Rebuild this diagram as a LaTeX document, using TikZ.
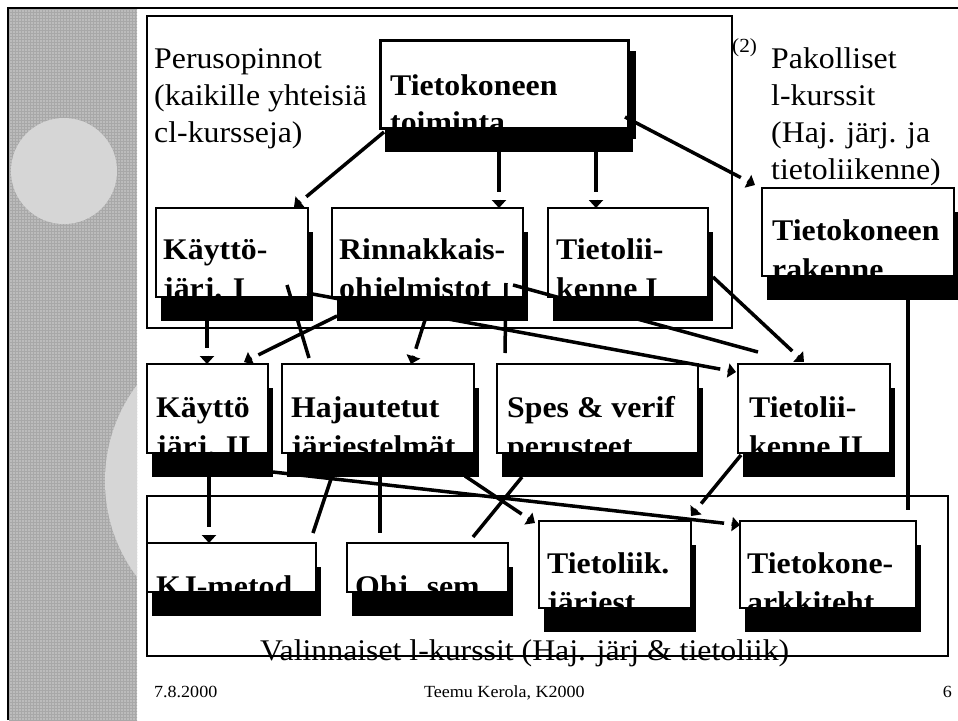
\documentclass[tikz,border=0pt]{standalone}
\usepackage{fontspec}
\setmainfont{Liberation Serif}[FakeStretch=1.06]
\usetikzlibrary{calc,arrows.meta,shadows,patterns}

\definecolor{stripgray}{RGB}{188,188,188}
\definecolor{stripline}{RGB}{168,168,168}
\definecolor{blobgray}{RGB}{214,214,214}

\newcommand\coursefont{\fontsize{30}{39}\selectfont\bfseries}
\newcommand\labelfont{\fontsize{30}{37}\selectfont}
\newcommand\footfont{\fontsize{17}{20}\selectfont}
\newcommand\twol[2]{\begin{tabular}[t]{@{}l@{}}#1\\#2\end{tabular}}

% connector with a small gap before its triangular head
\newcommand\flow[2]{%
  \draw[link, shorten >=16pt] #1 coordinate (fa) -- #2 coordinate (fb);
  \draw[link, -{Triangle[length=8pt,width=14pt]}] ($(fb)!8.5pt!(fa)$) -- (fb);}

\tikzset{
  course/.style={draw, line width=1.2pt, fill=white, inner sep=0pt, outer sep=0pt,
    anchor=north west,
    general shadow={fill=black, shadow xshift=5pt, shadow yshift=-24pt}},
  maincourse/.style={course, line width=3pt,
    general shadow={fill=black, shadow xshift=8pt, shadow yshift=-11pt}},
  group/.style={draw, line width=1.3pt, inner sep=0pt, outer sep=0pt, anchor=north west},
  ctext/.style={anchor=base west, inner sep=0pt, font=\coursefont},
  ltext/.style={anchor=base west, inner sep=0pt, font=\labelfont},
  ftext/.style={anchor=base west, inner sep=0pt, font=\footfont},
  link/.style={line width=3.5pt, line cap=butt},
}

\begin{document}
\begin{tikzpicture}[x=1pt,y=-1pt]
\useasboundingbox (0,0) rectangle (958,720);
\fill[white] (0,0) rectangle (958,720);

% decorative side strip
\fill[stripgray] (9,9) rectangle (137,720);
\fill[pattern=grid, pattern color=stripline] (9,9) rectangle (137,720);
\fill[blobgray] (64,171) circle[radius=53];
\begin{scope}
  \clip (9,9) rectangle (137,720);
  \fill[blobgray] (265,481) circle[radius=160];
\end{scope}
\draw[line width=1.5pt] (8,720) -- (8,8) -- (958,8);

% course groups
\node[group, minimum width=585pt, minimum height=312pt] (g1) at (147,16) {};
\node[group, minimum width=801pt, minimum height=160pt] (g2) at (147,496) {};

\node[ltext] (p1) at (154,68)  {Perusopinnot};
\node[ltext] (p2) at (154,105) {(kaikille yhteisiä};
\node[ltext] (p3) at (154,142) {cl-kursseja)};

\node[anchor=base west, inner sep=0pt, font=\fontsize{20}{22}\selectfont] (k0) at (732,52) {(2)};
\node[ltext] (k1) at (771,68)  {Pakolliset};
\node[ltext] (k2) at (771,105) {l-kurssit};
\node[ltext] (k3) at (771,142) {(Haj. järj. ja};
\node[ltext] (k4) at (771,179) {tietoliikenne)};

\node[ltext] (v1) at (260,660) {Valinnaiset l-kurssit (Haj. järj \& tietoliik)};

% courses
\node[maincourse, minimum width=248pt, minimum height=88pt] (n0) at (380,40) {};
\node[course, minimum width=152pt, minimum height=89pt] (n1) at (156,208) {};
\node[course, minimum width=191pt, minimum height=89pt] (n2) at (332,208) {};
\node[course, minimum width=160pt, minimum height=89pt] (n3) at (548,208) {};
\node[course, minimum width=192pt, minimum height=88pt] (n4) at (762,188) {};
\node[course, minimum width=121pt, minimum height=89pt] (n5) at (147,364) {};
\node[course, minimum width=192pt, minimum height=89pt] (n6) at (282,364) {};
\node[course, minimum width=201pt, minimum height=89pt] (n7) at (497,364) {};
\node[course, minimum width=152pt, minimum height=89pt] (n8) at (738,364) {};
\node[course, minimum width=169pt, minimum height=49pt] (n9) at (147,543) {};
\node[course, minimum width=161pt, minimum height=49pt] (n10) at (347,543) {};
\node[course, minimum width=152pt, minimum height=87pt] (n11) at (539,521) {};
\node[course, minimum width=176pt, minimum height=87pt] (n12) at (740,521) {};

\node[ctext, font=\fontsize{30}{37}\selectfont\bfseries] (t0) at ($(n0.north west)+(10,55)$) {\twol{Tietokoneen}{toiminta}};
\node[ctext] (t1)  at ($(n1.north west)+(7,51)$)  {\twol{Käyttö-}{järj. I}};
\node[ctext] (t2)  at ($(n2.north west)+(7,51)$)  {\twol{Rinnakkais-}{ohjelmistot}};
\node[ctext] (t3)  at ($(n3.north west)+(8,51)$)  {\twol{Tietolii-}{kenne I}};
\node[ctext] (t4)  at ($(n4.north west)+(10,52)$) {\twol{Tietokoneen}{rakenne}};
\node[ctext] (t5)  at ($(n5.north west)+(9,53)$)  {\twol{Käyttö}{järj. II}};
\node[ctext] (t6)  at ($(n6.north west)+(9,53)$)  {\twol{Hajautetut}{järjestelmät}};
\node[ctext] (t7)  at ($(n7.north west)+(10,53)$) {\twol{Spes \& verif}{perusteet}};
\node[ctext] (t8)  at ($(n8.north west)+(11,53)$) {\twol{Tietolii-}{kenne II}};
\node[ctext] (t9)  at ($(n9.north west)+(9,53)$)  {KJ-metod.};
\node[ctext] (t10) at ($(n10.north west)+(8,53)$) {Ohj. sem.};
\node[ctext] (t11) at ($(n11.north west)+(8,52)$) {\twol{Tietoliik.}{järjest.}};
\node[ctext] (t12) at ($(n12.north west)+(7,52)$) {\twol{Tietokone-}{arkkiteht.}};

% prerequisites
\flow{($(n0.south west)+(4,4)$)}{($(n1.north east)+(-14,-1)$)}
\flow{($(n2.north west)+(167,-69)$)}{($(n2.north west)+(167,0)$)}
\flow{($(n3.north west)+(48,-69)$)}{($(n3.north west)+(48,0)$)}
\flow{($(n0.south east)+(-3,-11)$)}{($(n4.north west)+(-7,-3)$)}

\flow{($(n1.south west)+(51,24)$)}{($(n5.north west)+(60,0)$)}
\flow{($(n2.south west)+(5,19)$)}{($(n5.north east)+(-24,-2)$)}
\draw[link] ($(n1.south east)+(-21,-12)$) -- ($(n6.north west)+(27,-6)$);
\flow{($(n1.south east)+(-1,-4)$)}{($(n8.north west)+(-2,8)$)}
\draw[link] ($(n2.south east)+(-17,-14)$) -- ($(n7.north west)+(8,-11)$);
\flow{($(n2.south west)+(93,23)$)}{($(n6.north west)+(129,0)$)}
\draw[link] ($(n2.south east)+(-10,-12)$) -- ($(n8.north west)+(20,-12)$);
\flow{($(n3.south east)+(5,-20)$)}{($(n8.north west)+(66,-2)$)}

\flow{($(n5.south west)+(62,23)$)}{($(n9.north west)+(62,0)$)}
\draw[link] ($(n6.south west)+(50,23)$) -- ($(n9.north east)+(-3,-10)$);
\draw[link] ($(n6.south west)+(98,23)$) -- ($(n10.north west)+(33,-10)$);
\draw[link] ($(n7.south west)+(25,24)$) -- ($(n10.north east)+(-35,-6)$);
\flow{($(n6.south east)+(-9,23)$)}{($(n11.north west)+(-4,2)$)}
\flow{($(n5.south east)+(5,19)$)}{($(n12.north west)+(0,4)$)}
\flow{($(n8.south west)+(3,2)$)}{($(n11.north east)+(0,-5)$)}
\draw[link] ($(n4.south east)+(-46,24)$) -- ($(n12.north east)+(-8,-11)$);

% footer
\node[ftext] (f1) at (154,697) {7.8.2000};
\node[ftext] (f2) at (424,697) {Teemu Kerola, K2000};
\node[anchor=base east, inner sep=0pt, font=\footfont] (f3) at (952,697) {6};
\end{tikzpicture}
\end{document}
